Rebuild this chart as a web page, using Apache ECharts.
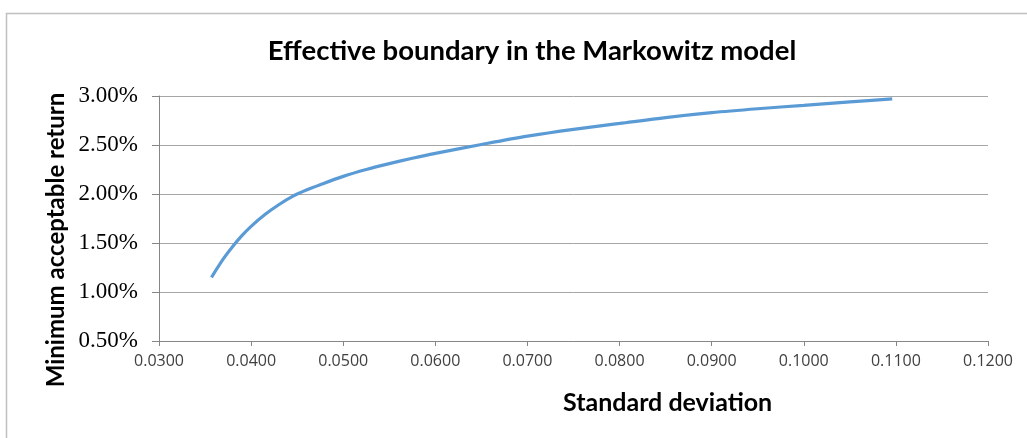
<!DOCTYPE html>
<html>
<head>
<meta charset="utf-8">
<script src="https://cdn.jsdelivr.net/npm/echarts@6/dist/echarts.min.js"></script>
<style>
html,body{margin:0;padding:0;background:#fff;}
#chart{width:1027px;height:438px;}
</style>
</head>
<body>
<div id="chart"></div>
<script>
// Standard deviation (x) and minimum acceptable return in % (y)
const stdDev = [0.0357, 0.0370, 0.0380, 0.0390, 0.0400, 0.0415, 0.0430, 0.0445, 0.0460, 0.0475, 0.0500, 0.0525, 0.0550, 0.0575, 0.0600, 0.0650, 0.0700, 0.0750, 0.0800, 0.0850, 0.0900, 0.0950, 0.1000, 0.1050, 0.1096];
const minReturn = [1.15, 1.34, 1.465, 1.575, 1.67, 1.79, 1.89, 1.975, 2.04, 2.095, 2.18, 2.25, 2.31, 2.365, 2.415, 2.505, 2.59, 2.66, 2.72, 2.78, 2.83, 2.87, 2.905, 2.94, 2.97];
const chartTitle = 'Effective boundary in the Markowitz model';
const xTitle = 'Standard deviation';
const yTitle = 'Minimum acceptable return';

const chart = echarts.init(document.getElementById('chart'));
chart.setOption({
  animation: false,
  backgroundColor: '#fff',
  title: {
    text: chartTitle,
    left: 527, top: 32, textAlign: 'center',
    textStyle: {fontFamily: 'Lato', fontWeight: 'bold', fontSize: 27.5, color: '#000'}
  },
  graphic: [
    {type: 'rect', left: 4, top: 11, shape: {width: 1030, height: 440},
     style: {fill: 'none', stroke: '#c0c0c0', lineWidth: 1.5}, silent: true},
    {type: 'text', left: 563, top: 390,
     style: {text: xTitle, font: 'bold 25px Lato', fill: '#000'}},
    {type: 'text', x: 44, y: 240, rotation: Math.PI / 2,
     style: {text: yTitle, font: 'bold 24px Lato', fill: '#000', textAlign: 'center', textVerticalAlign: 'top'}}
  ],
  grid: {left: 159, right: 39, top: 96, bottom: 97},
  xAxis: {
    type: 'value', min: 0.03, max: 0.12, interval: 0.01,
    axisLine: {lineStyle: {color: '#868686'}},
    axisTick: {show: true, length: 5, lineStyle: {color: '#868686'}},
    splitLine: {show: false},
    axisLabel: {formatter: v => v.toFixed(4), color: '#404040', fontFamily: 'Open Sans', fontSize: 16, margin: 12}
  },
  yAxis: {
    type: 'value', min: 0.5, max: 3, interval: 0.5,
    axisLine: {show: true, lineStyle: {color: '#868686'}},
    axisTick: {show: true, length: 7, lineStyle: {color: '#868686'}},
    splitLine: {lineStyle: {color: '#a6a6a6'}},
    axisLabel: {formatter: v => v.toFixed(2) + '%', color: '#000', fontFamily: 'Liberation Serif', fontSize: 23, margin: 21}
  },
  series: [{
    type: 'line',
    data: stdDev.map((x, i) => [x, minReturn[i]]),
    smooth: 0.3,
    showSymbol: false,
    lineStyle: {color: '#5b9bd5', width: 3.2}
  }]
});
</script>
</body>
</html>
